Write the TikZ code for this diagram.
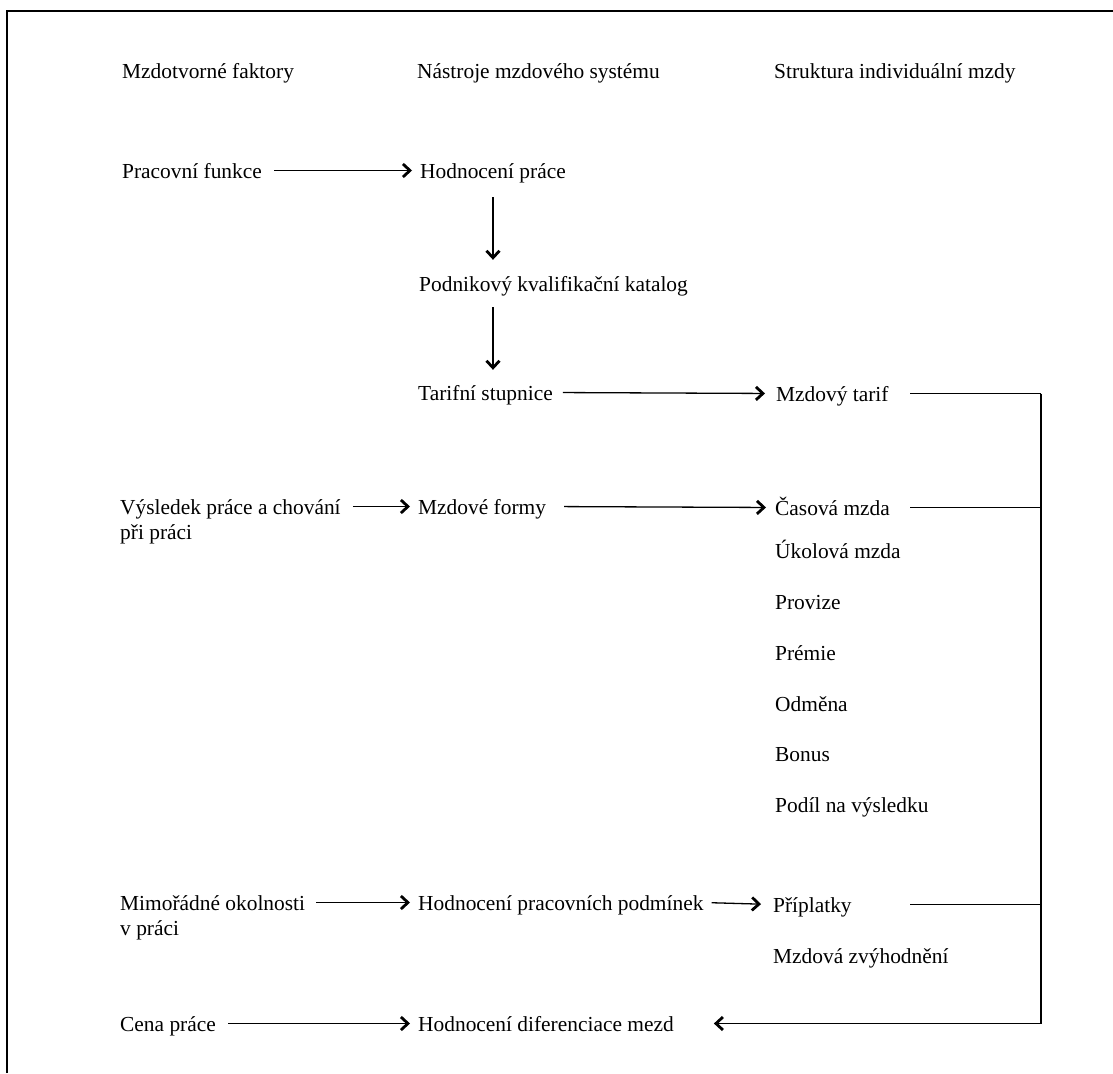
\documentclass[tikz,border=0pt]{standalone}
\usepackage{fontspec}
\setmainfont{Liberation Serif}
\usetikzlibrary{arrows.meta}
\begin{document}
\begin{tikzpicture}[x=1pt,y=-1pt,
  lbl/.style={anchor=base west, inner xsep=0pt, inner ysep=0pt,
    text height=16pt, text depth=1pt, font=\fontsize{21.4}{24}\selectfont},
  link/.style={line width=1.3pt},
  arr/.style={link, -{Straight Barb[length=7pt,width=13pt,line width=2.8pt 0]}},
  frame/.style={line width=1.6pt}
]
\useasboundingbox (0,0) rectangle (1113,1073);

% page frame (top and left edges)
\draw[frame] (7,1073) -- (7,11) -- (1113,11);

% column headings
\node[lbl] (h1) at (122,78) {Mzdotvorné faktory};
\node[lbl] (h2) at (417,78) {Nástroje mzdového systému};
\node[lbl] (h3) at (774,78) {Struktura individuální mzdy};

% left column: wage-forming factors
\node[lbl] (pf) at (122,178) {Pracovní funkce};
\node[lbl] (vp) at (120,514) {Výsledek práce a chování};
\node[lbl] (vp2) at (120,539) {při práci};
\node[lbl] (mo) at (120,910) {Mimořádné okolnosti};
\node[lbl] (mo2) at (120,935) {v práci};
\node[lbl] (cp) at (120,1031) {Cena práce};

% middle column: wage system tools
\node[lbl] (hp) at (420,178) {Hodnocení práce};
\node[lbl] (pk) at (419,291) {Podnikový kvalifikační katalog};
\node[lbl] (ts) at (418,400) {Tarifní stupnice};
\node[lbl] (mf) at (418,514) {Mzdové formy};
\node[lbl] (hpp) at (418,910) {Hodnocení pracovních podmínek};
\node[lbl] (hd) at (418,1031) {Hodnocení diferenciace mezd};

% right column: structure of the individual wage
\node[lbl] (mt) at (776,401) {Mzdový tarif};
\node[lbl] (cm) at (775,515) {Časová mzda};
\node[lbl] (um) at (775,558) {Úkolová mzda};
\node[lbl] (pv) at (775,609) {Provize};
\node[lbl] (pm) at (775,660) {Prémie};
\node[lbl] (od) at (775,711) {Odměna};
\node[lbl] (bo) at (775,761) {Bonus};
\node[lbl] (pd) at (775,812) {Podíl na výsledku};
\node[lbl] (pp) at (773,912) {Příplatky};
\node[lbl] (mz) at (773,963) {Mzdová zvýhodnění};

% collecting bus on the right
\coordinate (tailX) at (910,0);
\coordinate (busX) at (1041,0);

% horizontal arrows
\draw[arr, shorten <=12pt, shorten >=8pt] (pf.east) -- (hp.west);
\draw[arr, shorten <=10pt, shorten >=11pt] (ts.east) -- (mt.west);
\draw[arr, shorten <=12pt, shorten >=8pt] (vp.east) -- (mf.west);
\draw[arr, shorten <=18pt, shorten >=9pt] (mf.east) -- (cm.west);
\draw[arr, shorten <=11pt, shorten >=8pt] (mo.east) -- (hpp.west);
\draw[arr, shorten <=8pt, shorten >=12pt] (hpp.east) -- (pp.west);
\draw[arr, shorten <=12pt, shorten >=8pt] (cp.east) -- (hd.west);

% vertical arrows
\draw[arr, shorten <=18pt, shorten >=15pt] (hp.south) -- (hp.south |- pk.north);
\draw[arr, shorten <=15pt, shorten >=14pt] (pk.south -| hp.south) -- (hp.south |- ts.north);

% lines into the bus and the return arrow
\draw[link] (tailX |- mt) -- (busX |- mt);
\draw[link] (tailX |- cm) -- (busX |- cm);
\draw[link] (tailX |- pp) -- (busX |- pp);
\draw[arr, shorten >=40pt] (busX |- mt) -- (busX |- hd) -- (hd.east);
\end{tikzpicture}
\end{document}
